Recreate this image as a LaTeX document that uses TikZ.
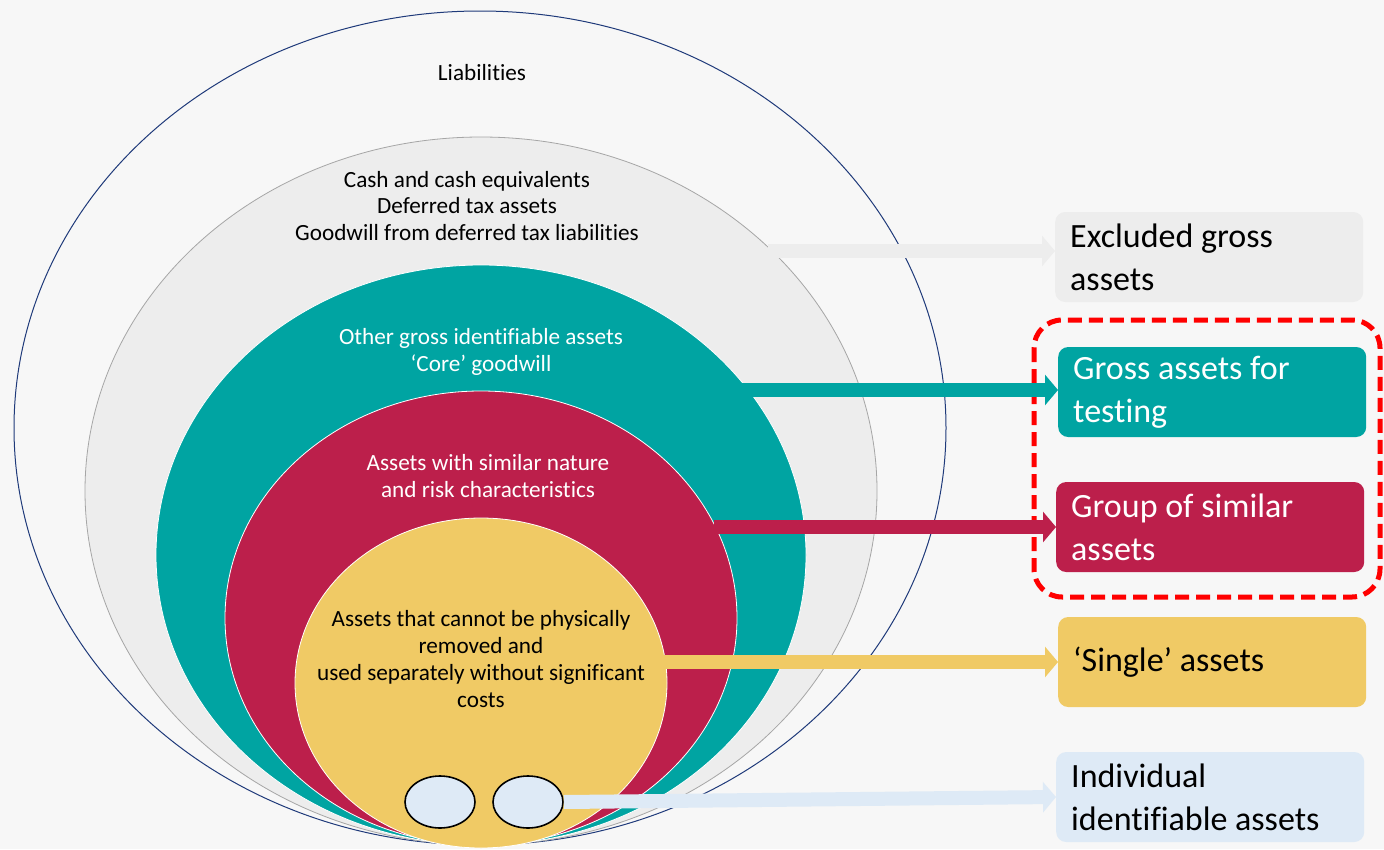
\documentclass[tikz,border=0pt]{standalone}
\usepackage{fontspec}
\setmainfont{Carlito}[Ligatures=NoCommon]
\usetikzlibrary{arrows.meta,shapes.geometric}
\definecolor{bg}{HTML}{F7F7F7}
\definecolor{navy}{HTML}{1F3A7A}
\definecolor{lgray}{HTML}{EDEDED}
\definecolor{mgray}{HTML}{A6A6A6}
\definecolor{teal2}{HTML}{00A4A2}
\definecolor{crim}{HTML}{BC1F4B}
\definecolor{yell}{HTML}{F0CA65}
\definecolor{lblue}{HTML}{DEEAF6}
\definecolor{redd}{HTML}{FF0000}
\tikzset{
  ring/.style={ellipse,inner sep=0pt,draw=white,line width=0.8pt},
  ctext/.style={align=flush center,font=\fontsize{23.2}{26.5}\selectfont},
  box/.style={rectangle,rounded corners=10pt,minimum width=308pt,minimum height=90pt,
    text width=278pt,inner xsep=15pt,inner ysep=0pt,align=flush left,
    font=\fontsize{34}{43}\selectfont},
  fat/.style={line width=14pt,-{Triangle[width=30pt,length=13pt]}},
  small/.style={ellipse,inner sep=0pt,minimum width=70pt,minimum height=52pt,
    draw=black,line width=1.6pt,fill=lblue}
}
\begin{document}
\begin{tikzpicture}[x=1pt,y=-1pt]
\fill[bg] (0,0) rectangle (1384,849);
\useasboundingbox (0,0) rectangle (1384,849);
% nested ellipses
\node[ring,draw=navy,line width=1pt,fill=bg,minimum width=932pt,minimum height=834pt] (outer) at (480,428) {};
\node[ring,draw=mgray,fill=lgray,minimum width=792pt,minimum height=708pt] (gray) at (481,491) {};
\node[ring,fill=teal2,minimum width=650pt,minimum height=580pt] (teal) at (481,555) {};
\node[ring,fill=crim,minimum width=512pt,minimum height=454pt] (red) at (481,618) {};
\node[ring,fill=yell,minimum width=372pt,minimum height=330pt] (yel) at (481,683) {};
\node[small] (s1) at (440,802) {};
\node[small] (s2) at (528,802) {};
% ellipse texts
\node[ctext] (tliab) at (482,73) {Liabilities};
\node[ctext] (tgray) at (467,206) {Cash and cash equivalents\\Deferred tax assets\\Goodwill from deferred tax liabilities};
\node[ctext,text=white] (tteal) at (481,352) {Other gross identifiable assets\\‘Core’ goodwill};
\node[ctext,text=white] (tred) at (488,476) {Assets with similar nature\\and risk characteristics};
\node[ctext,font=\fontsize{23.2}{27}\selectfont] (tyel) at (481,659) {Assets that cannot be physically\\removed and\\used separately without significant\\costs};
% boxes
\node[box,fill=lgray,anchor=west] (bx1) at (1055,257) {Excluded gross\\assets};
\node[box,fill=teal2,text=white,anchor=west] (bx2) at (1058,392) {Gross assets for\\testing};
\node[box,fill=crim,text=white,anchor=west] (bx3) at (1056,527) {Group of similar\\assets};
\node[box,fill=yell,anchor=west] (bx4) at (1058,662) {‘Single’ assets};
\node[box,fill=lblue,anchor=west] (bx5) at (1056,797) {Individual\\identifiable assets};
% red dashed frame
\draw[redd,line width=5pt,dash pattern=on 14pt off 7pt,rounded corners=28pt] (1034,320) rectangle (1380,597);
% arrow start points
\coordinate (a1) at (768,251);
\coordinate (a2) at (742,390);
\coordinate (a3) at (714,527);
\coordinate (a4) at (660,662);
% arrows
\draw[fat,lgray] (a1) -- (a1 -| bx1.west);
\draw[fat,teal2] (a2) -- (a2 -| bx2.west);
\draw[fat,crim] (a3) -- (bx3.west);
\draw[fat,yell] (a4) -- (bx4.west);
\draw[fat,lblue] (s2.east) -- (bx5.west);
\end{tikzpicture}
\end{document}
